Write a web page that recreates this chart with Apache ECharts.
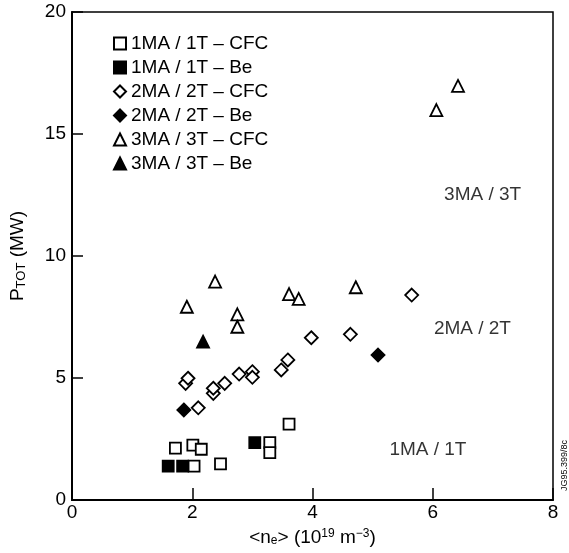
<!DOCTYPE html>
<html>
<head>
<meta charset="utf-8">
<script src="https://cdn.jsdelivr.net/npm/echarts@6/dist/echarts.min.js"></script>
<style>
  html, body { margin: 0; padding: 0; background: #fff; }
  #chart { width: 569px; height: 553px; }
</style>
</head>
<body>
<div id="chart"></div>
<script>
// data: [ne (1e19 m-3), Ptot (MW)]
var ma1CFC = [[1.72, 2.13], [2.01, 2.25], [2.15, 2.08], [2.03, 1.39], [2.47, 1.48],
  [3.29, 2.35], [3.29, 1.94], [3.61, 3.11]];
var ma1Be = [[1.60, 1.39], [1.84, 1.39], [3.04, 2.35]];
var ma2CFC = [[1.89, 4.78], [1.93, 4.99], [2.10, 3.78], [2.35, 4.37], [2.35, 4.58],
  [2.54, 4.78], [2.78, 5.16], [3.00, 5.26], [3.00, 5.03], [3.48, 5.33], [3.59, 5.74],
  [3.98, 6.65], [4.63, 6.79], [5.65, 8.40]];
var ma2Be = [[1.86, 3.69], [5.09, 5.94]];
var ma3CFC = [[2.38, 8.95], [1.91, 7.92], [2.75, 7.61], [2.75, 7.10], [3.61, 8.44],
  [3.77, 8.24], [4.72, 8.72], [6.42, 16.97], [6.06, 15.98]];
var ma3Be = [[2.18, 6.49]];

var seriesNames = ['1MA / 1T – CFC', '1MA / 1T – Be', '2MA / 2T – CFC',
  '2MA / 2T – Be', '3MA / 3T – CFC', '3MA / 3T – Be'];
// region labels placed in data coordinates
var regionLabels = [
  { value: [6.83, 12.5], text: '3MA / 3T' },
  { value: [6.66, 7.0], text: '2MA / 2T' },
  { value: [5.92, 2.05], text: '1MA / 1T' }
];

var FONT = '"Liberation Sans", Arial, sans-serif';
var FS = 19;
var myChart = echarts.init(document.getElementById('chart'));

function sc(name, data, symbol, size, filled) {
  return {
    name: name,
    type: 'scatter',
    data: data,
    symbol: symbol,
    symbolSize: size,
    itemStyle: {
      color: filled ? '#000' : '#fff',
      borderColor: '#000',
      borderWidth: 1.8,
      opacity: 1
    },
    emphasis: { disabled: true }
  };
}

myChart.setOption({
  animation: false,
  backgroundColor: '#fff',
  textStyle: { fontFamily: FONT, color: '#000' },
  grid: {
    left: 72, right: 16, top: 12, bottom: 53,
    show: true,
    borderColor: '#000',
    borderWidth: 1.5
  },
  legend: {
    orient: 'vertical',
    left: 108,
    top: 29,
    itemWidth: 12,
    itemHeight: 12,
    itemGap: 5,
    selectedMode: false,
    data: seriesNames,
    textStyle: { fontFamily: FONT, fontSize: FS, color: '#000' }
  },
  xAxis: {
    type: 'value',
    min: 0, max: 8, interval: 2,
    name: '<n{sub|e}> (10{sup|19} m{sup|−3})',
    nameLocation: 'middle',
    nameGap: 28,
    nameTextStyle: {
      fontFamily: FONT, fontSize: FS, color: '#000',
      rich: {
        sub: { fontSize: 12, verticalAlign: 'bottom', padding: [7, 0, 0, 0], fontFamily: FONT },
        sup: { fontSize: 12, verticalAlign: 'top', padding: [0, 0, 7, 0], fontFamily: FONT }
      }
    },
    axisLine: { onZero: false, lineStyle: { color: '#000', width: 2 } },
    axisTick: { inside: true, length: 12, lineStyle: { color: '#000', width: 1.5 } },
    axisLabel: { fontSize: FS, color: '#000', margin: 3, fontFamily: FONT },
    splitLine: { show: false }
  },
  yAxis: {
    type: 'value',
    min: 0, max: 20, interval: 5,
    name: '{n|P}{s|TOT}{n| (MW)}',
    nameLocation: 'middle',
    nameGap: 44,
    nameTextStyle: {
      fontFamily: FONT, fontSize: FS, color: '#000',
      rich: {
        n: { fontSize: FS, fontFamily: FONT },
        s: { fontSize: 13, verticalAlign: 'bottom', padding: [8, 0, 0, 0], fontFamily: FONT }
      }
    },
    axisLine: { lineStyle: { color: '#000', width: 2 } },
    axisTick: { inside: true, length: 11, lineStyle: { color: '#000', width: 1.5 } },
    axisLabel: { fontSize: FS, color: '#000', margin: 6, fontFamily: FONT },
    splitLine: { show: false }
  },
  series: [
    sc(seriesNames[0], ma1CFC, 'rect', 11, false),
    sc(seriesNames[1], ma1Be, 'rect', 11, true),
    sc(seriesNames[2], ma2CFC, 'diamond', 13, false),
    sc(seriesNames[3], ma2Be, 'diamond', 13, true),
    sc(seriesNames[4], ma3CFC, 'triangle', 12, false),
    sc(seriesNames[5], ma3Be, 'triangle', 12, true),
    {
      name: 'regions',
      type: 'scatter',
      symbolSize: 0,
      silent: true,
      data: regionLabels.map(function (r) { return { value: r.value, name: r.text }; }),
      label: {
        show: true,
        position: 'inside',
        formatter: function (p) { return p.name; },
        fontSize: FS,
        color: '#000',
        fontFamily: FONT
      }
    }
  ],
  graphic: [{
    type: 'text',
    right: 0,
    top: 440,
    rotation: Math.PI / 2,
    style: { text: 'JG95.399/8c', fontSize: 9, fontFamily: FONT, fill: '#000' }
  }]
});
</script>
</body>
</html>
